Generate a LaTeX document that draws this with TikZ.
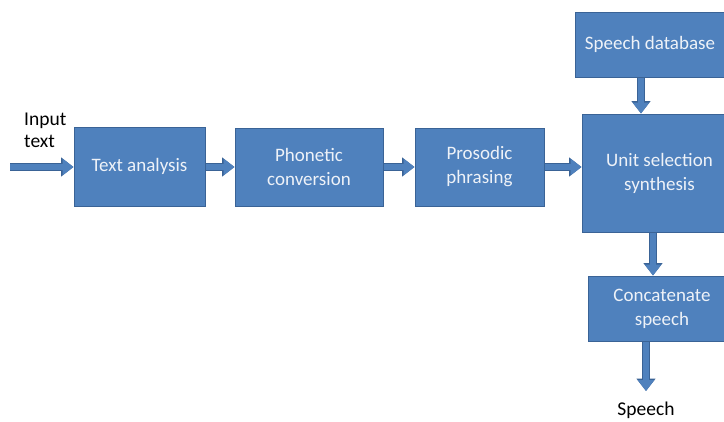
\documentclass[tikz,border=0pt]{standalone}
\usepackage{fontspec}
\setmainfont{Carlito}
\usetikzlibrary{arrows.meta}
\definecolor{boxfill}{HTML}{4F81BD}
\definecolor{boxline}{HTML}{3A6396}
\definecolor{boxtext}{HTML}{EEF2F8}
\begin{document}
\begin{tikzpicture}[x=1pt,y=-1pt,
  blk/.style={draw=boxline, line width=1pt, fill=boxfill, text=boxtext, align=center,
    font=\fontsize{19}{24}\selectfont, inner sep=0pt},
  barrow/.style={draw=boxfill, line width=6pt, -{Triangle[length=11pt,width=16pt]},
    preaction={draw=boxline, line width=7.5pt, -{Triangle[length=12.5pt,width=18.5pt]}}},
  lbl/.style={font=\fontsize{19.5}{22}\selectfont, text=black, inner sep=0pt}]
\useasboundingbox (0,0) rectangle (724,421);
\clip (0,0) rectangle (724,421);
\fill[white] (0,0) rectangle (724,421);
\node[blk, minimum width=131pt, minimum height=79pt] (ta) at (139.5,166.5) {Text analysis};
\node[blk, minimum width=148pt, minimum height=78pt] (pc) at (309,167) {Phonetic\\conversion};
\node[blk, minimum width=129pt, minimum height=78pt] (pp) at (479.5,167) {Prosodic\\phrasing};
\node[blk, minimum width=155pt, minimum height=118pt] (us) at (659.5,173) {Unit selection\\synthesis};
\node[blk, minimum width=150pt, minimum height=65pt] (sd) at (650,44.5) {Speech database};
\node[blk, minimum width=148pt, minimum height=65pt] (cs) at (662,308.5) {Concatenate\\speech};
\node[lbl, anchor=north west, align=left] (in) at (24,113) {Input\\text};
\node[lbl] (sp) at (646,410) {Speech};
\coordinate (start) at (10,167);
\coordinate (end) at (646,391);
\draw[barrow] (start) -- (ta.west |- start);
\draw[barrow] (ta.east |- start) -- (pc.west |- start);
\draw[barrow] (pc.east |- start) -- (pp.west |- start);
\draw[barrow] (pp.east |- start) -- (us.west |- start);
\draw[barrow] (sd.south -| 641,0) -- (us.north -| 641,0);
\draw[barrow] (us.south -| 653,0) -- (cs.north -| 653,0);
\draw[barrow] (cs.south -| end) -- (end);
\end{tikzpicture}
\end{document}
